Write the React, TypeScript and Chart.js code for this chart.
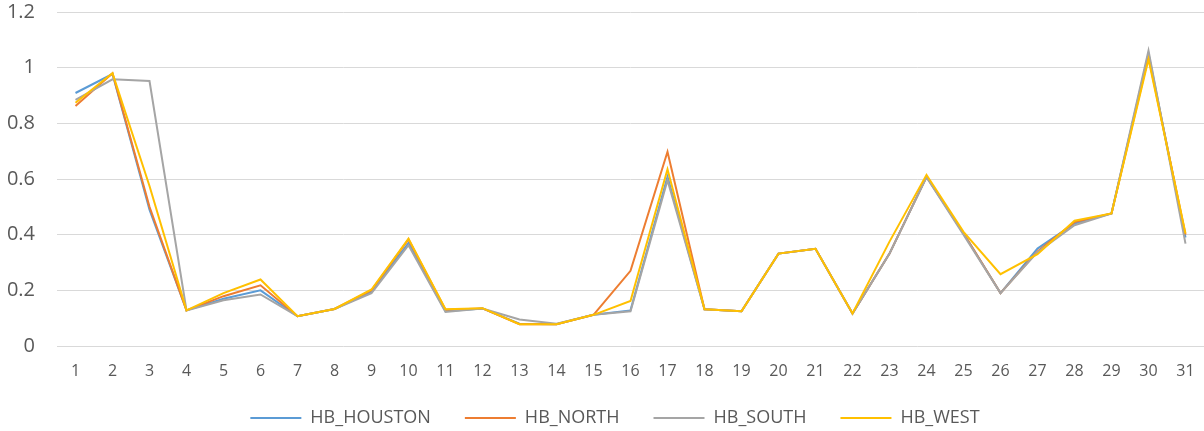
import React, { useEffect, useRef } from "react";
import { Chart, registerables } from "chart.js";

Chart.register(...registerables);

const categories = [
  "1", "2", "3", "4", "5", "6", "7", "8", "9", "10", "11", "12", "13", "14", "15", "16",
  "17", "18", "19", "20", "21", "22", "23", "24", "25", "26", "27", "28", "29", "30", "31",
];

const yTickLabels = ["0", "0.2", "0.4", "0.6", "0.8", "1", "1.2"];

const houston = [
  0.909, 0.977, 0.49, 0.128, 0.17, 0.2, 0.107, 0.133, 0.195, 0.37, 0.125, 0.135, 0.08, 0.078, 0.112, 0.128,
  0.608, 0.132, 0.125, 0.332, 0.349, 0.117, 0.332, 0.608, 0.405, 0.19, 0.35, 0.44, 0.476, 1.05, 0.39,
];
const north = [
  0.862, 0.98, 0.5, 0.128, 0.179, 0.218, 0.107, 0.133, 0.2, 0.383, 0.13, 0.135, 0.078, 0.078, 0.112, 0.27,
  0.698, 0.132, 0.125, 0.332, 0.349, 0.117, 0.332, 0.608, 0.405, 0.19, 0.34, 0.445, 0.476, 1.04, 0.4,
];
const south = [
  0.884, 0.958, 0.952, 0.128, 0.164, 0.185, 0.107, 0.133, 0.19, 0.362, 0.122, 0.135, 0.095, 0.08, 0.112, 0.125,
  0.596, 0.132, 0.125, 0.332, 0.349, 0.117, 0.332, 0.606, 0.4, 0.19, 0.337, 0.434, 0.476, 1.061, 0.368,
];
const west = [
  0.874, 0.98, 0.575, 0.128, 0.19, 0.239, 0.107, 0.133, 0.203, 0.386, 0.132, 0.136, 0.078, 0.078, 0.112, 0.162,
  0.635, 0.132, 0.125, 0.332, 0.349, 0.117, 0.375, 0.615, 0.41, 0.258, 0.33, 0.45, 0.476, 1.03, 0.404,
];

const seriesNames = ["HB_HOUSTON", "HB_NORTH", "HB_SOUTH", "HB_WEST"];
const seriesColors = ["#5B9BD5", "#ED7D31", "#A5A5A5", "#FFC000"];

const TEXT = "#595959";
const FONT = "'Open Sans', sans-serif";

export default function App() {
  const ref = useRef<HTMLCanvasElement>(null);

  useEffect(() => {
    document.body.style.margin = "0";
    const canvas = ref.current;
    if (!canvas) return;
    const values = [houston, north, south, west];
    const chart = new Chart(canvas, {
      type: "line",
      data: {
        labels: categories,
        datasets: values.map((v, i) => ({
          label: seriesNames[i],
          data: v,
          borderColor: seriesColors[i],
          backgroundColor: seriesColors[i],
          borderWidth: 2,
          pointRadius: 0,
          pointHoverRadius: 0,
          tension: 0,
          fill: false,
          order: values.length - 1 - i,
        })),
      },
      options: {
        responsive: false,
        animation: false,
        layout: { padding: { top: 12, left: 26, right: 0, bottom: -6 } },
        plugins: {
          legend: {
            position: "bottom",
            labels: {
              usePointStyle: true,
              pointStyle: "line",
              pointStyleWidth: 51,
              boxHeight: 2,
              padding: 34,
              color: TEXT,
              font: { family: FONT, size: 18 },
              sort: (a: any, b: any) => a.datasetIndex - b.datasetIndex,
            },
          },
          tooltip: { enabled: false },
        },
        scales: {
          x: {
            offset: true,
            grid: { display: false, drawTicks: true, tickLength: 16 },
            border: { display: false },
            ticks: {
              color: TEXT,
              font: { family: FONT, size: 16 },
              padding: 0,
              maxRotation: 0,
              autoSkip: false,
            },
            afterFit: (s: any) => {
              s.height = 29;
              s._computeLabelArea = () => undefined;
            },
          },
          y: {
            min: 0,
            max: 1.2,
            grid: {
              color: "#D9D9D9",
              lineWidth: 1,
              drawTicks: true,
              tickLength: 22,
              tickColor: "rgba(0,0,0,0)",
            },
            border: { display: false },
            ticks: {
              stepSize: 0.2,
              padding: 0,
              color: TEXT,
              font: { family: FONT, size: 20 },
              callback: (_v: any, i: number) => yTickLabels[i],
            },
            afterFit: (s: any) => {
              s.width = 31;
              s._computeLabelArea = () => undefined;
            },
          },
        },
      },
    });
    return () => chart.destroy();
  }, []);

  return (
    <div style={{ width: 1204, height: 431 }}>
      <canvas ref={ref} width={1204} height={431} />
    </div>
  );
}
